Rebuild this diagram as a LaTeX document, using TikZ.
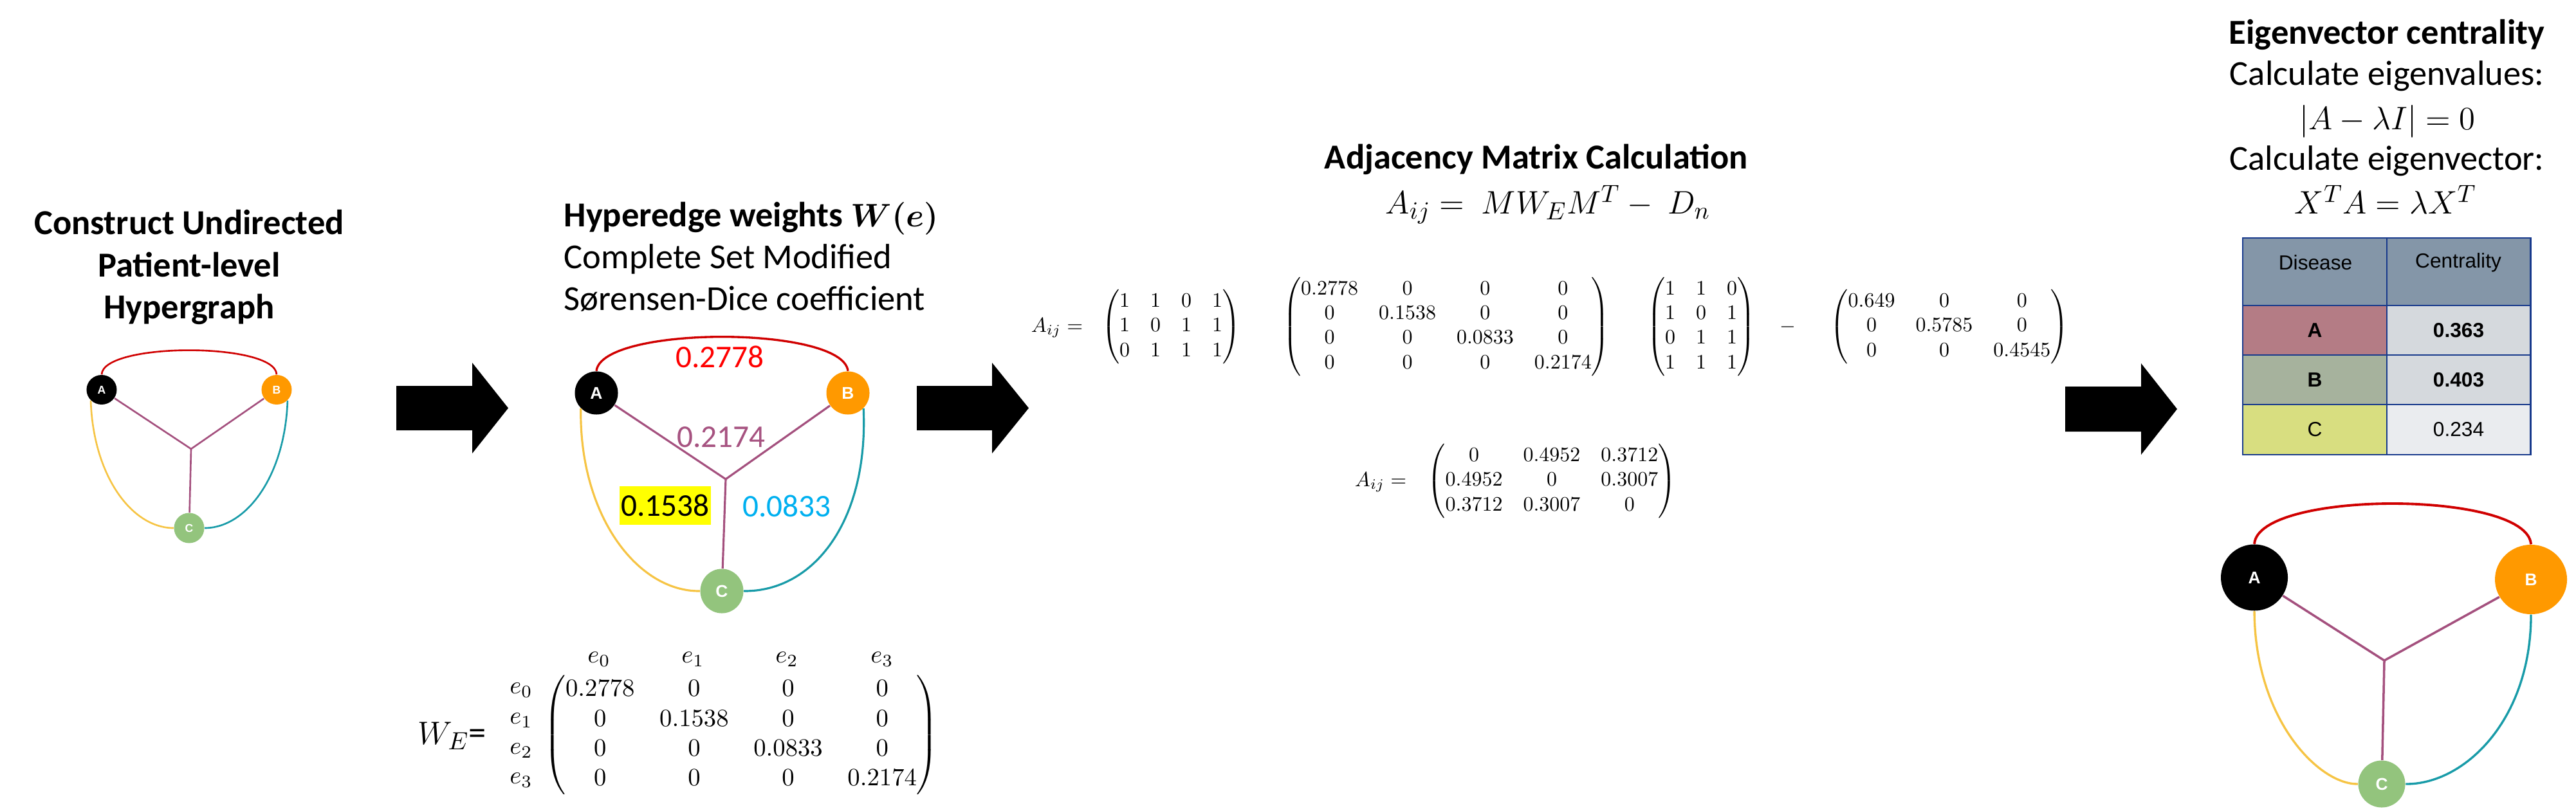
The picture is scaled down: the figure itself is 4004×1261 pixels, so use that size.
\documentclass[tikz,border=0pt]{standalone}
\usepackage{amsmath}
\usepackage{graphicx}
\usepackage[no-math]{fontspec}
\setmainfont{Carlito}
\newfontfamily\arialfont{Liberation Sans}
\usetikzlibrary{shapes.geometric}
\definecolor{hred}{RGB}{208,0,0}
\definecolor{hpurple}{RGB}{164,80,126}
\definecolor{hyellow}{RGB}{246,196,68}
\definecolor{hteal}{RGB}{24,155,168}
\definecolor{norange}{RGB}{255,153,0}
\definecolor{ngreen}{RGB}{147,196,125}
\definecolor{lred}{RGB}{255,0,0}
\definecolor{lblue}{RGB}{0,176,240}
\definecolor{lpurple}{RGB}{166,82,128}
\definecolor{hilite}{RGB}{255,255,0}
\definecolor{thead}{RGB}{132,150,168}
\definecolor{trowa}{RGB}{180,124,133}
\definecolor{trowb}{RGB}{166,178,157}
\definecolor{trowc}{RGB}{216,222,128}
\definecolor{tval}{RGB}{213,217,221}
\definecolor{tvalc}{RGB}{234,236,239}
\definecolor{tborder}{RGB}{24,58,140}
\tikzset{
  vtx/.style={ellipse, inner sep=0pt, text=white, font=\arialfont\bfseries},
  ttl/.style={font=\fontsize{15.5}{18}\selectfont\bfseries, anchor=base, inner sep=0pt},
  body/.style={font=\fontsize{15.5}{18}\selectfont, anchor=base, inner sep=0pt},
  wlab/.style={font=\fontsize{14}{17}\selectfont, anchor=base, inner sep=0pt},
  mat/.style={inner sep=0pt},
  cell/.style={rectangle, draw=tborder, line width=0.8pt, inner sep=0pt, font=\arialfont\fontsize{9}{11}\selectfont},
  blockarrow/.style={fill=black},
}
\begin{document}
\begin{tikzpicture}[x=0.01cm, y=-0.01cm]
\useasboundingbox (0,0) rectangle (4004,1261);

% ---------------- Panel 1 ----------------
\node[ttl] (p1a) at (294,364) {Construct Undirected};
\node[ttl] (p1b) at (294,430) {Patient-level};
\node[ttl] (p1c) at (294,495) {Hypergraph};

\node[vtx, fill=black, minimum width=0.47cm, minimum height=0.46cm, font=\arialfont\bfseries\fontsize{5}{6}\selectfont] (A1) at (158,606) {A};
\node[vtx, fill=norange, minimum width=0.47cm, minimum height=0.46cm, font=\arialfont\bfseries\fontsize{5}{6}\selectfont] (B1) at (430,606) {B};
\node[vtx, fill=ngreen, minimum width=0.47cm, minimum height=0.47cm, font=\arialfont\bfseries\fontsize{5}{6}\selectfont] (C1) at (294,821) {C};
\coordinate (J1) at (297,698);
\draw[hred, line width=0.75pt] (A1.north) .. controls (160,532) and (428,532) .. (B1.north);
\draw[hyellow, line width=0.75pt] (A1.225) .. controls (145,740) and (205,821) .. (C1.west);
\draw[hteal, line width=0.75pt] (B1.-45) .. controls (443,740) and (383,821) .. (C1.east);
\draw[hpurple, line width=0.75pt] (A1) -- (J1) -- (B1);
\draw[hpurple, line width=0.75pt] (J1) -- (C1);

% arrows
\fill[blockarrow] (616,600) -- (734,600) -- (734,564) -- (790,634.5) -- (734,705) -- (734,669) -- (616,669) -- cycle;
\fill[blockarrow] (1425,600) -- (1542,600) -- (1542,564) -- (1599,634.5) -- (1542,705) -- (1542,669) -- (1425,669) -- cycle;
\fill[blockarrow] (3210,601) -- (3328,601) -- (3328,565) -- (3384,636) -- (3328,707) -- (3328,671) -- (3210,671) -- cycle;

% ---------------- Panel 2 ----------------
\node[ttl, anchor=base west] (p2a) at (876,353) {Hyperedge weights {\boldmath$W(e)$}};
\node[body, anchor=base west] (p2b) at (876,418) {Complete Set Modified};
\node[body, anchor=base west] (p2c) at (876,482) {Sørensen-Dice coefficient};

\node[vtx, fill=black, minimum width=0.67cm, minimum height=0.67cm, font=\arialfont\bfseries\fontsize{7.5}{9}\selectfont] (A2) at (927,611) {A};
\node[vtx, fill=norange, minimum width=0.67cm, minimum height=0.67cm, font=\arialfont\bfseries\fontsize{7.5}{9}\selectfont] (B2) at (1318,611) {B};
\node[vtx, fill=ngreen, minimum width=0.67cm, minimum height=0.69cm, font=\arialfont\bfseries\fontsize{7.5}{9}\selectfont] (C2) at (1122,919) {C};
\coordinate (J2) at (1128,745);
\draw[hred, line width=0.95pt] (A2.north) .. controls (935,506) and (1310,506) .. (B2.north);
\draw[hyellow, line width=0.9pt] (A2.225) .. controls (900,800) and (990,920) .. (C2.west);
\draw[hteal, line width=0.9pt] (B2.-45) .. controls (1350,810) and (1265,920) .. (C2.east);
\draw[hpurple, line width=0.9pt] (A2) -- (J2) -- (B2);
\draw[hpurple, line width=0.9pt] (J2) -- (C2);

\node[wlab, text=lred] (w0) at (1119,571) {0.2778};
\node[wlab, text=lpurple] (w3) at (1121,695) {0.2174};
\node[font=\fontsize{14}{17}\selectfont, fill=hilite, minimum width=1.42cm, minimum height=0.6cm, inner sep=0pt] (w1) at (1034,786) {0.1538};
\node[wlab, text=lblue] (w2) at (1223,803) {0.0833};

% W_E matrix
\node[font=\fontsize{15.5}{18}\selectfont, anchor=base west, inner sep=0pt] (WE) at (649,1157) {$W_E$=};
\node[mat] (WEm) at (1152,1143) {\scalebox{1.1}{$\begin{pmatrix}
0.2778 & 0 & 0 & 0\\
0 & 0.1538 & 0 & 0\\
0 & 0 & 0.0833 & 0\\
0 & 0 & 0 & 0.2174
\end{pmatrix}$}};
\node[mat] (ch0) at (931,1025) {\scalebox{1.1}{$e_0$}};
\node[mat] (ch1) at (1077,1025) {\scalebox{1.1}{$e_1$}};
\node[mat] (ch2) at (1223,1025) {\scalebox{1.1}{$e_2$}};
\node[mat] (ch3) at (1371,1025) {\scalebox{1.1}{$e_3$}};
\node[mat] (rh0) at (810,1073) {\scalebox{1.1}{$e_0$}};
\node[mat] (rh1) at (810,1120) {\scalebox{1.1}{$e_1$}};
\node[mat] (rh2) at (810,1167) {\scalebox{1.1}{$e_2$}};
\node[mat] (rh3) at (810,1213) {\scalebox{1.1}{$e_3$}};

% ---------------- Panel 3 ----------------
\node[ttl] (p3a) at (2388,263) {Adjacency Matrix Calculation};
\node[body] (p3b) at (2406,333) {$A_{ij} =\ MW_EM^T -\ D_n$};

\node[mat, anchor=base] (aij1) at (1643,516) {\scalebox{0.91}{$A_{ij} =$}};
\node[mat] (mM) at (1820,508) {\scalebox{0.91}{$\begin{pmatrix}
1 & 1 & 0 & 1\\
1 & 0 & 1 & 1\\
0 & 1 & 1 & 1
\end{pmatrix}$}};
\node[mat] (mW) at (2248,508) {\scalebox{0.91}{$\begin{pmatrix}
0.2778 & 0 & 0 & 0\\
0 & 0.1538 & 0 & 0\\
0 & 0 & 0.0833 & 0\\
0 & 0 & 0 & 0.2174
\end{pmatrix}$}};
\node[mat] (mMT) at (2644,508) {\scalebox{0.91}{$\begin{pmatrix}
1 & 1 & 0\\
1 & 0 & 1\\
0 & 1 & 1\\
1 & 1 & 1
\end{pmatrix}$}};
\node[mat, anchor=base] (minus) at (2779,516) {\scalebox{0.91}{$-$}};
\node[mat] (mD) at (3030,508) {\scalebox{0.91}{$\begin{pmatrix}
0.649 & 0 & 0\\
0 & 0.5785 & 0\\
0 & 0 & 0.4545
\end{pmatrix}$}};

\node[mat, anchor=base] (aij2) at (2146,756) {\scalebox{0.91}{$A_{ij} =$}};
\node[mat] (mA) at (2412,748) {\scalebox{0.91}{$\begin{pmatrix}
0 & 0.4952 & 0.3712\\
0.4952 & 0 & 0.3007\\
0.3712 & 0.3007 & 0
\end{pmatrix}$}};

% ---------------- Panel 4 ----------------
\node[ttl] (p4a) at (3710,69) {Eigenvector centrality};
\node[body] (p4b) at (3710,133) {Calculate eigenvalues:};
\node[body] (p4c) at (3711,202) {$|A-\lambda I| = 0$};
\node[body] (p4d) at (3710,265) {Calculate eigenvector:};
\node[body] (p4e) at (3708,333) {$X^TA = \lambda X^T$};

\node[cell, fill=thead, minimum width=2.24cm, minimum height=1.05cm] (h1) at (3598,422.5) {};
\node[cell, fill=thead, minimum width=2.23cm, minimum height=1.05cm] (h2) at (3821.5,422.5) {};
\node[font=\arialfont\fontsize{9}{11}\selectfont, inner sep=0pt] (h1t) at (3599,408) {Disease};
\node[font=\arialfont\fontsize{9}{11}\selectfont, inner sep=0pt] (h2t) at (3821,408) {Centrality};
\node[cell, fill=trowa, minimum width=2.24cm, minimum height=0.77cm, font=\arialfont\bfseries\fontsize{9}{11}\selectfont] (ra1) at (3598,513.5) {A};
\node[cell, fill=tval, minimum width=2.23cm, minimum height=0.77cm, font=\arialfont\bfseries\fontsize{9}{11}\selectfont] (ra2) at (3821.5,513.5) {0.363};
\node[cell, fill=trowb, minimum width=2.24cm, minimum height=0.77cm, font=\arialfont\bfseries\fontsize{9}{11}\selectfont] (rb1) at (3598,590.5) {B};
\node[cell, fill=tval, minimum width=2.23cm, minimum height=0.77cm, font=\arialfont\bfseries\fontsize{9}{11}\selectfont] (rb2) at (3821.5,590.5) {0.403};
\node[cell, fill=trowc, minimum width=2.24cm, minimum height=0.78cm] (rc1) at (3598,668) {C};
\node[cell, fill=tvalc, minimum width=2.23cm, minimum height=0.78cm] (rc2) at (3821.5,668) {0.234};

\node[vtx, fill=black, minimum width=1.04cm, minimum height=1.03cm, font=\arialfont\bfseries\fontsize{7.5}{9}\selectfont] (A4) at (3504,898) {A};
\node[vtx, fill=norange, minimum width=1.12cm, minimum height=1.08cm, font=\arialfont\bfseries\fontsize{7.5}{9}\selectfont] (B4) at (3934,901) {B};
\node[vtx, fill=ngreen, minimum width=0.73cm, minimum height=0.73cm, font=\arialfont\bfseries\fontsize{7.5}{9}\selectfont] (C4) at (3702,1219) {C};
\coordinate (J4) at (3706,1027);
\draw[hred, line width=1.1pt] (A4.north) .. controls (3510,762) and (3928,762) .. (B4.north);
\draw[hyellow, line width=0.95pt] (A4.south) .. controls (3505,1120) and (3605,1220) .. (C4.west);
\draw[hteal, line width=0.95pt] (B4.south) .. controls (3934,1120) and (3830,1220) .. (C4.east);
\draw[hpurple, line width=1pt] (A4) -- (J4) -- (B4);
\draw[hpurple, line width=1pt] (J4) -- (C4);
\end{tikzpicture}
\end{document}
